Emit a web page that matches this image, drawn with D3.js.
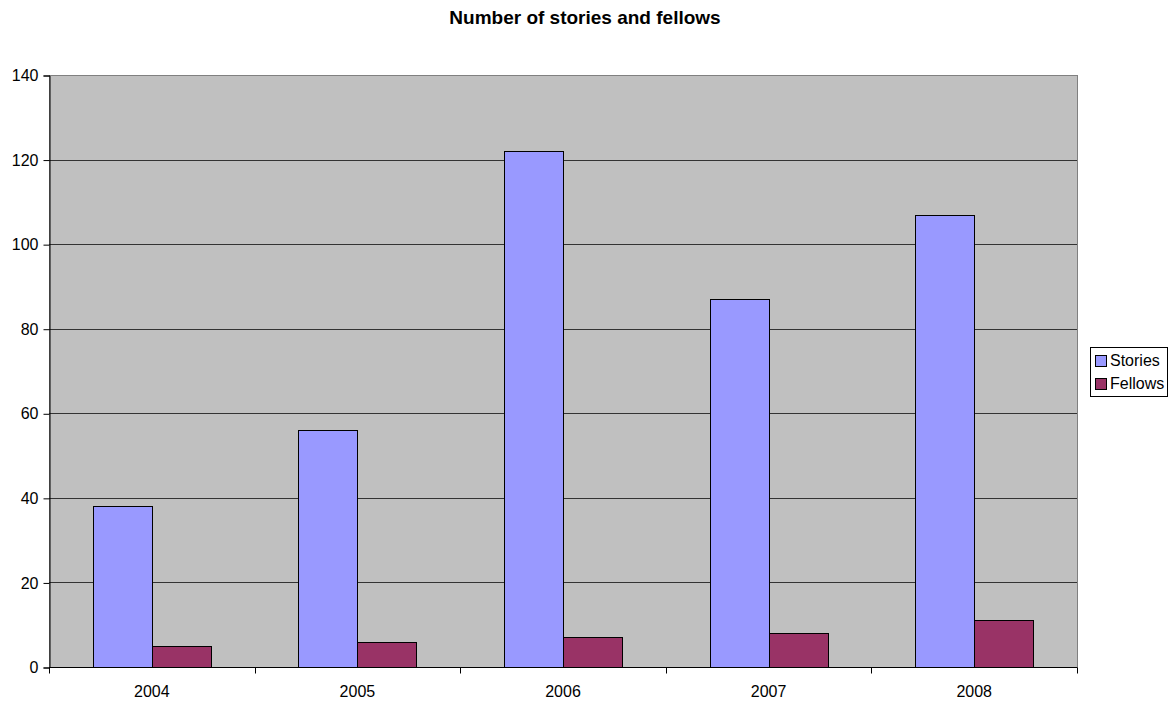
<!DOCTYPE html>
<html>
<head>
<meta charset="utf-8">
<script src="https://cdn.jsdelivr.net/npm/d3@7"></script>
<style>
  body { margin: 0; background: #fff; }
  svg { display: block; font-family: "Liberation Sans", Arial, sans-serif; }
</style>
</head>
<body>
<svg id="chart" width="1169" height="701"></svg>
<script>
const years = ["2004", "2005", "2006", "2007", "2008"];
const stories = [38, 56, 122, 87, 107];
const fellows = [5, 6, 7, 8, 11];
const seriesNames = ["Stories", "Fellows"];
const seriesColors = ["#9999ff", "#993366"];
const yTicks = [0, 20, 40, 60, 80, 100, 120, 140];

const svg = d3.select("#chart");
const plot = { left: 49, right: 1077, top: 75, bottom: 667 };

const x = d3.scaleBand().domain(years).range([plot.left, plot.right]).paddingInner(0).paddingOuter(0);
const y = d3.scaleLinear().domain([0, 140]).range([plot.bottom, plot.top]);

// plot background
svg.append("rect")
  .attr("x", plot.left + 0.5).attr("y", plot.top + 0.5)
  .attr("width", plot.right - plot.left).attr("height", plot.bottom - plot.top)
  .attr("fill", "#c0c0c0").attr("stroke", "#808080").attr("stroke-width", 1);

// horizontal gridlines
svg.append("g").selectAll("line").data(yTicks.filter(t => t > 0 && t < 140)).join("line")
  .attr("x1", plot.left).attr("x2", plot.right)
  .attr("y1", d => Math.round(y(d)) + 0.5).attr("y2", d => Math.round(y(d)) + 0.5)
  .attr("stroke", "#333").attr("stroke-width", 1);

// bars: each year's pair occupies the middle of its band
const groupFrac = 118 / x.bandwidth();
const barW = x.bandwidth() * groupFrac / 2;
const rows = years.map((yr, i) => ({ yr, vals: [stories[i], fellows[i]] }));
const g = svg.append("g");
rows.forEach(r => {
  const x0 = x(r.yr) + (x.bandwidth() - barW * 2) / 2;
  r.vals.forEach((v, j) => {
    g.append("rect")
      .attr("x", Math.round(x0 + j * barW) + 0.5)
      .attr("y", Math.round(y(v)) + 0.5)
      .attr("width", Math.round(barW))
      .attr("height", Math.round(y(0)) - Math.round(y(v)))
      .attr("fill", seriesColors[j])
      .attr("stroke", "#000").attr("stroke-width", 1);
  });
});

// y axis
const yAxis = d3.axisLeft(y).tickValues(yTicks).tickSize(6).tickPadding(5);
const ya = svg.append("g").attr("transform", `translate(${plot.left + 0.5},0.5)`).call(yAxis);
ya.select(".domain").attr("stroke", "#000");
ya.selectAll(".tick line").attr("stroke", "#000");
ya.selectAll("text").attr("font-size", 16).attr("fill", "#000")
  .attr("font-family", "Liberation Sans, Arial, sans-serif");

// x axis: ticks at category boundaries
const xa = svg.append("g").attr("transform", `translate(0,${plot.bottom + 0.5})`);
xa.append("line").attr("x1", plot.left).attr("x2", plot.right).attr("stroke", "#000");
const bounds = years.map(d => x(d)).concat([plot.right]);
xa.selectAll("line.tk").data(bounds).join("line").attr("class", "tk")
  .attr("x1", d => Math.round(d) + 0.5).attr("x2", d => Math.round(d) + 0.5)
  .attr("y1", 0).attr("y2", 6).attr("stroke", "#000");
xa.selectAll("text").data(years).join("text")
  .attr("x", d => x(d) + x.bandwidth() / 2).attr("y", 29.5)
  .attr("text-anchor", "middle").attr("font-size", 16).attr("fill", "#000")
  .text(d => d);

// title
svg.append("text").attr("x", 585).attr("y", 24).attr("text-anchor", "middle")
  .attr("font-size", 19).attr("font-weight", "bold").attr("fill", "#000")
  .text("Number of stories and fellows");

// legend
const lg = svg.append("g");
lg.append("rect").attr("x", 1090.5).attr("y", 347.5).attr("width", 77).attr("height", 49)
  .attr("fill", "#fff").attr("stroke", "#000");
seriesNames.forEach((n, i) => {
  lg.append("rect").attr("x", 1095.5).attr("y", 355.5 + i * 23).attr("width", 11).attr("height", 11)
    .attr("fill", seriesColors[i]).attr("stroke", "#000");
  lg.append("text").attr("x", 1110).attr("y", 366 + i * 23).attr("font-size", 16).attr("fill", "#000").text(n);
});
</script>
</body>
</html>
